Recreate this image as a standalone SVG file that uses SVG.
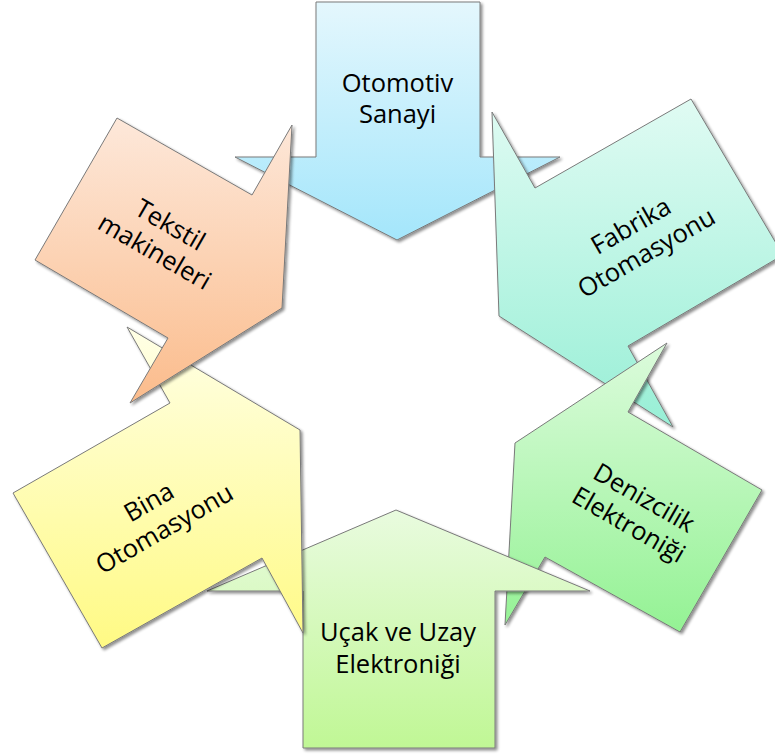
<svg xmlns="http://www.w3.org/2000/svg" width="775" height="754" viewBox="0 0 775 754">
  <defs>
    <linearGradient id="gBlue" x1="0" y1="0" x2="0" y2="1">
      <stop offset="0" stop-color="#e4f7fd"/>
      <stop offset="1" stop-color="#a4e6fb"/>
    </linearGradient>
    <linearGradient id="gTeal" x1="0" y1="0" x2="0" y2="1">
      <stop offset="0" stop-color="#e0fbf3"/>
      <stop offset="1" stop-color="#98efd6"/>
    </linearGradient>
    <linearGradient id="gGreen" x1="0" y1="0" x2="0" y2="1">
      <stop offset="0" stop-color="#dcfbdc"/>
      <stop offset="1" stop-color="#94f294"/>
    </linearGradient>
    <linearGradient id="gLime" x1="0" y1="0" x2="0" y2="1">
      <stop offset="0" stop-color="#e9fbdf"/>
      <stop offset="1" stop-color="#c0f795"/>
    </linearGradient>
    <linearGradient id="gYellow" x1="0" y1="0" x2="0" y2="1">
      <stop offset="0" stop-color="#ffffe6"/>
      <stop offset="1" stop-color="#fffa84"/>
    </linearGradient>
    <linearGradient id="gOrange" x1="0" y1="0" x2="0" y2="1">
      <stop offset="0" stop-color="#fde8da"/>
      <stop offset="1" stop-color="#fbbc8c"/>
    </linearGradient>
    <filter id="shadow" x="-10%" y="-10%" width="125%" height="125%">
      <feGaussianBlur in="SourceAlpha" stdDeviation="1.5"/>
      <feOffset dx="1.5" dy="2" result="off"/>
      <feComponentTransfer><feFuncA type="linear" slope="0.45"/></feComponentTransfer>
      <feMerge><feMergeNode/><feMergeNode in="SourceGraphic"/></feMerge>
    </filter>
  </defs>
  <style>
    .shape { stroke: #7a7a7a; stroke-width: 1; stroke-linejoin: miter; filter: url(#shadow); }
    .label { font-family: "Open Sans", "Liberation Sans", sans-serif; font-size: 25.5px; fill: #000; text-anchor: middle; }
  </style>

  <rect width="775" height="754" fill="#ffffff"/>

  <!-- callout arrows, drawn in stacking order around the ring -->
  <g id="otomotiv">
    <polygon class="shape" fill="url(#gBlue)" points="316,2 480,2 480,157 560,157 397,240 235,157 316,157"/>
    <text class="label"><tspan x="397.5" y="92">Otomotiv</tspan><tspan x="397.5" y="123">Sanayi</tspan></text>
  </g>

  <g id="fabrika">
    <polygon class="shape" fill="url(#gTeal)" points="492,112 535,188 691,99 783,255 628,346 673,427 499,316"/>
    <text class="label" transform="translate(639,240) rotate(-30)"><tspan x="0" y="-7.5">Fabrika</tspan><tspan x="0" y="23.5">Otomasyonu</tspan></text>
  </g>

  <g id="denizcilik">
    <polygon class="shape" fill="url(#gGreen)" points="667,343 628,412 762,490 680,632 545,557 505,625 515,443"/>
    <text class="label" transform="translate(636,512) rotate(30)"><tspan x="0" y="-7.5">Denizcilik</tspan><tspan x="0" y="23.5">Elektroniği</tspan></text>
  </g>

  <g id="ucak">
    <polygon class="shape" fill="url(#gLime)" points="396,510 590,591 495,591 495,748 303,748 303,591 207,591"/>
    <text class="label"><tspan x="398" y="641">Uçak ve Uzay</tspan><tspan x="398" y="673">Elektroniği</tspan></text>
  </g>

  <g id="bina">
    <polygon class="shape" fill="url(#gYellow)" points="127,327 170,403 13,493 102,648 262,558 303,633 300,430"/>
    <text class="label" transform="translate(157,516) rotate(-30)"><tspan x="0" y="-7.5">Bina</tspan><tspan x="0" y="23.5">Otomasyonu</tspan></text>
  </g>

  <g id="tekstil">
    <polygon class="shape" fill="url(#gOrange)" points="292,125 252,195 117,118 35,260 168,338 130,403 282,308"/>
    <text class="label" transform="translate(162,239) rotate(30)"><tspan x="0" y="-7.5">Tekstil</tspan><tspan x="0" y="23.5">makineleri</tspan></text>
  </g>

  <g id="connectors"/>
</svg>
